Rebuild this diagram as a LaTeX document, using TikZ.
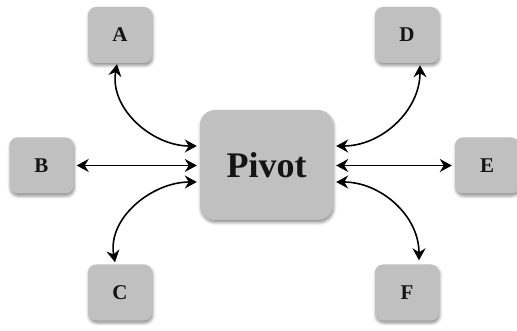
\documentclass[tikz,border=0pt]{standalone}
\usepackage{fontspec}
\setmainfont{Liberation Serif}
\usetikzlibrary{arrows.meta,shadows.blur}
\definecolor{boxgray}{RGB}{192,192,192}
\definecolor{inkdark}{RGB}{20,20,20}
\tikzset{
  box/.style={draw=none, fill=boxgray, rounded corners=8pt,
    minimum width=64pt, minimum height=56pt, inner sep=0pt,
    text=inkdark, font=\bfseries\fontsize{21}{21}\selectfont,
    blur shadow={shadow xshift=0.8pt, shadow yshift=-2.5pt,
      shadow blur radius=3pt, shadow opacity=45}},
  pivotbox/.style={box, rounded corners=15pt, minimum width=133pt,
    minimum height=110pt, font=\bfseries\fontsize{36}{36}\selectfont},
  link/.style={draw=black, line width=1.6pt,
    {Stealth[length=12pt,width=13pt,inset=4pt]}-{Stealth[length=12pt,width=13pt,inset=4pt]}}
}
\begin{document}
\begin{tikzpicture}[x=1pt,y=-1pt]
  \useasboundingbox (0,0) rectangle (517,331);
  % nodes
  \node[pivotbox] (P) at (266.5,165) {Pivot};
  \node[box] (A) at (120,35) {A};
  \node[box] (B) at (41.5,165.5) {B};
  \node[box] (C) at (120,292.5) {C};
  \node[box] (D) at (407,35) {D};
  \node[box] (E) at (487,165.5) {E};
  \node[box] (F) at (407,292.5) {F};
  % straight links
  \draw[link, shorten <=3pt, shorten >=3pt] (B.east) -- (B.east -| P.west);
  \draw[link, shorten <=3pt, shorten >=3pt] (E.west -| P.east) -- (E.west);
  % curved links
  \draw[link] ([xshift=-3pt,yshift=19pt]P.west) to[out=180,in=-100] ([xshift=-3pt,yshift=-1pt]A.south);
  \draw[link] ([xshift=-3pt,yshift=-17pt]P.west) to[out=180,in=100] ([xshift=-5pt,yshift=2pt]C.north);
  \draw[link] ([xshift=3pt,yshift=19pt]P.east) to[out=0,in=-90] ([xshift=13pt,yshift=-2pt]D.south);
  \draw[link] ([xshift=3pt,yshift=-17pt]P.east) to[out=0,in=90] ([xshift=12pt,yshift=4pt]F.north);
\end{tikzpicture}
\end{document}
